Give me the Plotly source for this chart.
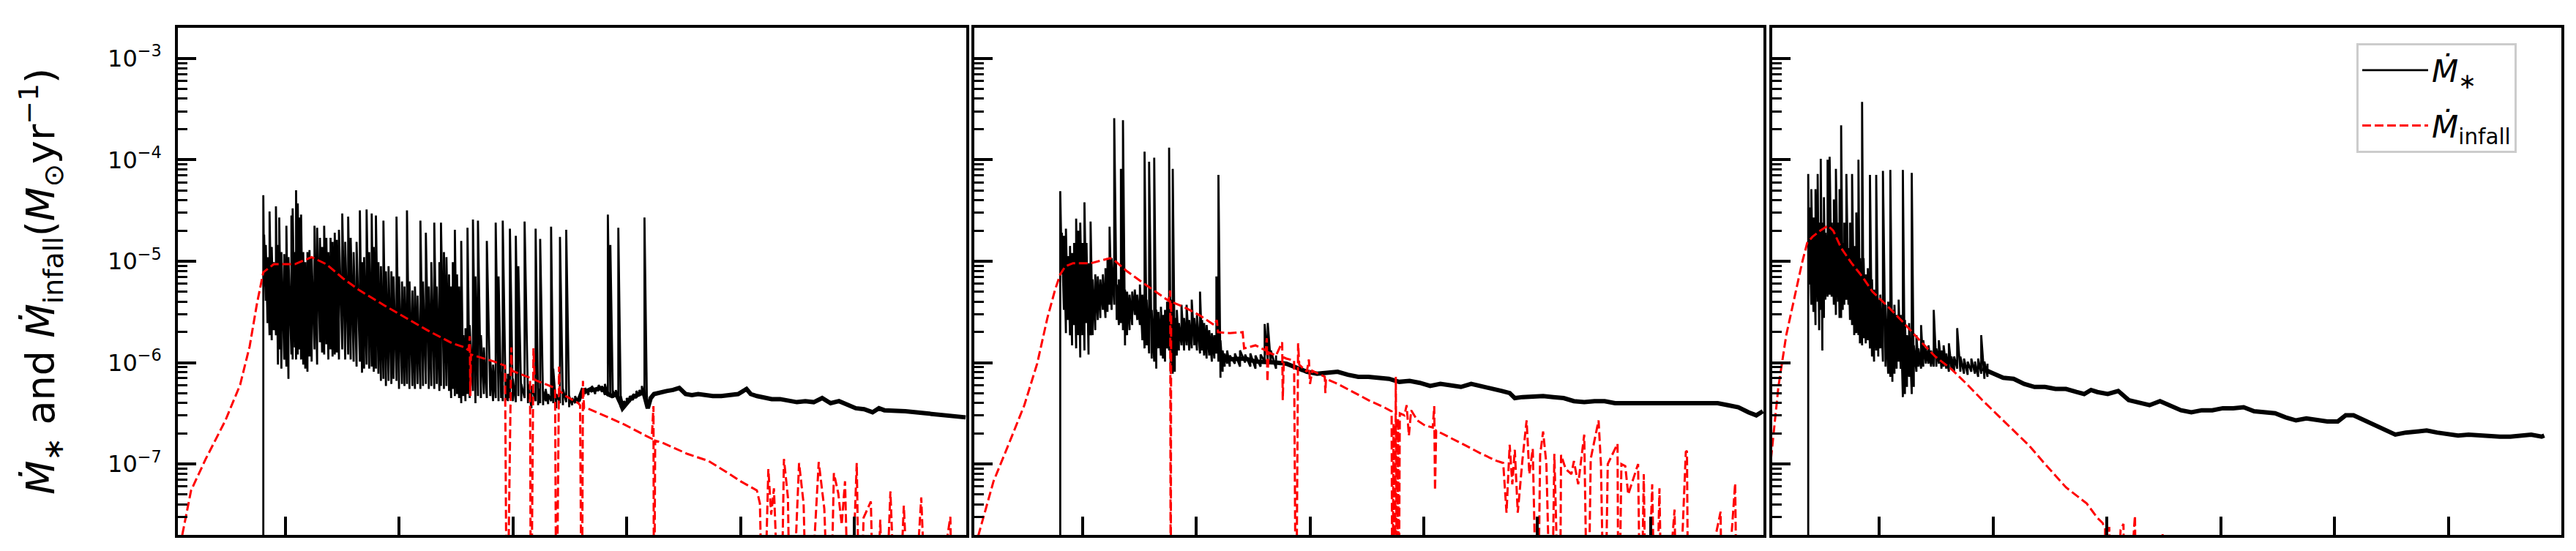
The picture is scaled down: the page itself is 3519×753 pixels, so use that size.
import math
import plotly.graph_objects as go

# ---------------------------------------------------------------------------
# Data.
# Time axis: arbitrary units, major ticks at 1..6 (labels hidden in original).
# Rates are stored as log10 values (Msun/yr); BOT marks a value far below
# the plotted range (line drops off the axis).
# ---------------------------------------------------------------------------
BOT = -9.0

# Panel 1 -- stellar accretion rate, noisy part: (t, log10 upper, log10 lower)
p1_star_core = [
    (0.805, -4.35, BOT), (0.812, -4.74, -5.25), (0.827, -4.84, -5.39), (0.842, -4.96, -5.61),
    (0.860, -4.51, -5.73), (0.879, -4.86, -5.78), (0.897, -5.01, -5.68), (0.916, -4.46, -5.73),
    (0.934, -4.84, -6.02), (0.945, -4.57, -5.87), (0.964, -4.91, -6.06), (0.989, -4.93, -5.97),
    (1.008, -4.65, -6.04), (1.026, -4.96, -6.16), (1.052, -4.55, -5.92), (1.063, -4.48, -5.97),
    (1.082, -4.91, -5.85), (1.093, -4.30, -5.97), (1.108, -4.43, -5.92), (1.122, -4.57, -5.87),
    (1.137, -4.54, -5.97), (1.156, -4.91, -6.02), (1.174, -5.01, -6.06), (1.193, -4.91, -6.09),
    (1.211, -4.89, -5.94), (1.230, -4.96, -5.99), (1.255, -4.65, -5.87), (1.278, -4.67, -6.02),
    (1.303, -4.77, -5.80), (1.322, -4.86, -5.90), (1.340, -4.65, -5.92), (1.359, -4.77, -5.82),
    (1.377, -4.91, -5.97), (1.396, -4.77, -5.87), (1.414, -4.81, -5.94), (1.433, -4.72, -5.92),
    (1.451, -4.79, -5.90), (1.470, -4.69, -5.97), (1.499, -4.53, -5.87), (1.525, -4.81, -5.97),
    (1.551, -4.56, -5.92), (1.573, -4.77, -5.97), (1.599, -4.91, -5.99), (1.625, -4.81, -6.04),
    (1.654, -4.50, -5.99), (1.673, -5.01, -6.10), (1.691, -4.96, -6.06), (1.713, -4.49, -6.02),
    (1.736, -4.91, -6.06), (1.758, -4.53, -6.04), (1.776, -4.86, -6.09), (1.795, -4.55, -6.06),
    (1.817, -5.01, -6.11), (1.839, -5.05, -6.18), (1.861, -4.60, -6.16), (1.883, -5.10, -6.23),
    (1.906, -5.05, -6.18), (1.931, -5.10, -6.21), (1.950, -5.15, -6.16), (1.976, -4.56, -6.18),
    (1.998, -5.15, -6.26), (2.024, -5.20, -6.21), (2.046, -5.25, -6.23), (2.068, -4.50, -6.21),
    (2.090, -5.20, -6.26), (2.116, -5.29, -6.23), (2.138, -5.25, -6.26), (2.161, -5.34, -6.21),
    (2.186, -4.60, -6.26), (2.209, -5.20, -6.23), (2.234, -4.72, -6.21), (2.260, -5.25, -6.26),
    (2.282, -5.01, -6.23), (2.308, -4.62, -6.26), (2.330, -5.25, -6.21), (2.353, -5.01, -6.28),
    (2.367, -4.62, -6.23), (2.393, -4.91, -6.26), (2.415, -4.96, -6.23), (2.438, -5.13, -6.28),
    (2.456, -5.25, -6.35), (2.471, -5.01, -6.26), (2.489, -4.69, -6.33), (2.508, -5.13, -6.31),
    (2.526, -5.25, -6.35), (2.545, -4.80, -6.40), (2.563, -5.73, -6.33), (2.582, -5.66, -6.38),
    (2.600, -4.67, -6.31), (2.619, -5.63, -6.35), (2.648, -4.59, -6.28), (2.670, -5.15, -6.40),
    (2.692, -4.60, -6.33), (2.718, -5.73, -6.35), (2.744, -5.85, -6.31), (2.770, -4.80, -6.35),
    (2.800, -5.97, -6.33), (2.825, -6.02, -6.38), (2.848, -4.62, -6.35), (2.873, -5.15, -6.38),
    (2.896, -6.09, -6.35), (2.910, -4.60, -6.38), (2.936, -6.16, -6.37), (2.955, -6.11, -6.38),
    (2.973, -4.68, -6.35), (2.999, -6.16, -6.38), (3.025, -4.75, -6.39), (3.047, -5.05, -6.33),
    (3.073, -6.21, -6.38), (3.102, -4.61, -6.35), (3.132, -6.21, -6.40), (3.162, -6.23, -6.45),
    (3.199, -4.68, -6.38), (3.221, -6.26, -6.42), (3.239, -4.78, -6.40), (3.265, -6.28, -6.42),
    (3.287, -6.26, -6.38), (3.309, -6.31, -6.41), (3.335, -4.66, -6.38), (3.354, -6.06, -6.40),
    (3.380, -6.31, -6.45), (3.413, -4.76, -6.40), (3.439, -6.26, -6.42), (3.468, -4.69, -6.39),
    (3.494, -6.33, -6.44), (3.520, -6.35, -6.42), (3.546, -6.33, -6.40), (3.575, -6.35, -6.40),
    (3.605, -6.26, -6.31), (3.634, -6.25, -6.31), (3.664, -6.26, -6.32), (3.694, -6.23, -6.29),
    (3.723, -6.25, -6.31), (3.753, -6.22, -6.28), (3.782, -6.23, -6.29), (3.808, -6.21, -6.32),
    (3.834, -4.54, -6.33), (3.856, -4.84, -6.33), (3.878, -6.28, -6.35), (3.904, -6.27, -6.33),
    (3.926, -4.67, -6.38), (3.948, -6.33, -6.44), (3.974, -6.38, -6.45), (4.000, -6.35, -6.42),
    (4.026, -6.33, -6.39), (4.056, -6.31, -6.37), (4.085, -6.28, -6.35), (4.111, -6.27, -6.33),
    (4.133, -6.23, -6.31), (4.156, -4.57, -6.35), (4.178, -6.33, -6.45),
]
# Panel 1 -- stellar accretion rate, quiet late part: (t, log10 rate)
p1_star_tail = [
    (3.575, -6.38), (3.612, -6.27), (3.649, -6.28), (3.686, -6.26), (3.723, -6.27), (3.760, -6.25),
    (3.797, -6.26), (3.834, -6.31), (3.871, -6.33), (3.908, -6.31), (3.945, -6.40), (3.963, -6.45),
    (4.000, -6.40), (4.037, -6.35), (4.074, -6.33), (4.111, -6.31), (4.148, -6.29), (4.185, -6.45),
    (4.211, -6.35), (4.240, -6.31), (4.296, -6.29), (4.351, -6.28), (4.407, -6.27), (4.462, -6.25),
    (4.517, -6.31), (4.573, -6.32), (4.628, -6.31), (4.684, -6.32), (4.757, -6.33), (4.831, -6.33),
    (4.905, -6.32), (4.979, -6.31), (5.053, -6.26), (5.090, -6.31), (5.145, -6.33), (5.201, -6.34),
    (5.275, -6.36), (5.348, -6.36), (5.422, -6.38), (5.496, -6.39), (5.570, -6.38), (5.644, -6.39),
    (5.718, -6.35), (5.792, -6.40), (5.866, -6.38), (5.940, -6.41), (6.014, -6.45), (6.087, -6.46),
    (6.161, -6.49), (6.217, -6.45), (6.265, -6.47), (6.450, -6.48), (6.600, -6.50), (6.750, -6.51),
    (6.900, -6.53), (6.980, -6.54),
]
# Panel 1 -- infall rate: (t, log10 rate)
p1_infall = [
    (0.050, -7.94), (0.097, -7.675), (0.170, -7.26), (0.299, -6.95), (0.472, -6.57), (0.601, -6.22),
    (0.685, -5.84), (0.749, -5.42), (0.805, -5.11), (0.897, -5.03), (1.082, -5.03), (1.230, -4.96),
    (1.359, -5.03), (1.506, -5.17), (1.654, -5.29), (1.875, -5.44), (2.061, -5.56), (2.245, -5.68),
    (2.467, -5.81), (2.577, -5.85), (2.610, -5.88), (2.620, -5.74), (2.625, -6.33), (2.630, -5.92),
    (2.834, -5.99), (2.930, -6.03), (2.947, BOT), (2.985, -5.85), (2.990, -6.08), (3.059, -6.11),
    (3.150, -6.15), (3.158, BOT), (3.180, -5.86), (3.190, -6.17), (3.278, -6.21), (3.370, -6.25),
    (3.382, BOT), (3.405, -6.04), (3.410, -6.28), (3.465, -6.33), (3.574, -6.40), (3.590, -6.42),
    (3.605, BOT), (3.615, -6.18), (3.625, -6.45), (3.651, -6.45), (3.797, -6.52), (3.979, -6.61),
    (4.166, -6.72), (4.220, -6.75), (4.235, -6.43), (4.240, BOT), (4.250, -6.77), (4.314, -6.79),
    (4.533, -6.90), (4.719, -6.97), (4.906, -7.10), (5.000, -7.17), (5.144, -7.26), (5.171, -7.39),
    (5.200, BOT), (5.245, -7.05), (5.270, -7.50), (5.294, -7.24), (5.353, BOT), (5.382, -6.95),
    (5.417, -7.33), (5.441, BOT), (5.515, -6.99), (5.555, -7.39), (5.589, BOT), (5.688, -6.98),
    (5.737, -7.44), (5.786, BOT), (5.821, -7.09), (5.860, -7.29), (5.890, -7.60), (5.919, -7.17),
    (5.959, BOT), (6.022, -6.99), (6.050, BOT), (6.082, -7.53), (6.146, -7.37), (6.180, BOT),
    (6.229, -7.55), (6.260, BOT), (6.318, -7.27), (6.377, BOT), (6.436, -7.41), (6.500, BOT),
    (6.589, -7.33), (6.648, BOT), (6.845, -7.52), (6.869, BOT), (6.990, BOT),
]

# Panel 2
p2_star_core = [
    (0.802, -4.31, BOT), (0.816, -4.72, -5.13), (0.834, -4.75, -5.48), (0.852, -4.68, -5.71),
    (0.870, -4.95, -5.58), (0.888, -4.85, -5.73), (0.906, -4.92, -5.83), (0.924, -4.82, -5.63),
    (0.942, -4.58, -5.86), (0.960, -4.70, -5.73), (0.978, -4.62, -5.95), (0.997, -4.82, -5.73),
    (1.015, -4.42, -5.88), (1.033, -4.82, -5.61), (1.051, -5.02, -5.92), (1.069, -4.61, -5.73),
    (1.087, -5.18, -5.73), (1.110, -5.13, -5.68), (1.132, -5.15, -5.58), (1.155, -5.18, -5.56),
    (1.177, -5.13, -5.48), (1.200, -5.07, -5.56), (1.218, -4.97, -5.50), (1.236, -4.66, -5.43),
    (1.254, -4.97, -5.48), (1.277, -3.59, -5.43), (1.299, -5.23, -5.58), (1.318, -5.18, -5.63),
    (1.336, -4.09, -5.61), (1.354, -3.61, -5.68), (1.372, -5.28, -5.83), (1.390, -5.30, -5.73),
    (1.412, -5.33, -5.68), (1.435, -5.30, -5.63), (1.458, -5.28, -5.53), (1.480, -5.33, -5.58),
    (1.503, -5.23, -5.63), (1.525, -5.33, -5.78), (1.544, -3.92, -5.86), (1.562, -5.38, -5.83),
    (1.584, -4.02, -5.91), (1.607, -5.48, -5.96), (1.629, -3.98, -5.99), (1.647, -5.48, -6.06),
    (1.666, -5.50, -5.86), (1.688, -5.45, -5.93), (1.706, -5.53, -5.96), (1.724, -5.48, -5.99),
    (1.742, -5.40, -5.86), (1.760, -3.88, -5.88), (1.774, -5.38, -6.11), (1.792, -4.09, -6.11),
    (1.810, -5.56, -6.09), (1.828, -5.48, -5.93), (1.846, -5.61, -5.88), (1.869, -5.43, -5.83),
    (1.892, -5.56, -5.88), (1.914, -5.43, -5.83), (1.937, -5.58, -5.88), (1.959, -5.38, -5.86),
    (1.982, -5.56, -5.83), (2.005, -5.53, -5.88), (2.032, -5.30, -5.91), (2.050, -5.58, -5.88),
    (2.068, -5.61, -5.93), (2.090, -5.63, -5.96), (2.113, -5.68, -5.93), (2.136, -5.71, -5.99),
    (2.158, -5.73, -5.96), (2.176, -5.15, -5.91), (2.194, -4.15, -5.99), (2.212, -5.78, -6.15),
    (2.231, -5.88, -6.09), (2.249, -5.91, -6.04), (2.271, -5.88, -6.01), (2.294, -5.93, -6.04),
    (2.339, -5.91, -6.01), (2.384, -5.88, -6.04), (2.429, -5.92, -6.00), (2.475, -5.91, -6.04),
    (2.520, -5.93, -6.06), (2.565, -5.92, -6.04), (2.601, -5.62, -5.99), (2.628, -5.61, -5.98),
    (2.655, -5.88, -6.01), (2.701, -5.93, -6.06),
]
p2_star_tail = [
    (2.249, -5.97), (2.339, -5.96), (2.429, -5.96), (2.520, -5.99), (2.610, -5.99), (2.701, -6.00),
    (2.791, -6.01), (2.881, -6.05), (2.972, -6.09), (3.062, -6.11), (3.153, -6.10), (3.243, -6.09),
    (3.333, -6.12), (3.424, -6.14), (3.514, -6.14), (3.605, -6.15), (3.695, -6.16),
    (3.785, -6.19), (3.876, -6.18), (3.966, -6.20), (4.057, -6.23), (4.147, -6.21), (4.237, -6.23),
    (4.328, -6.24), (4.418, -6.21), (4.509, -6.23), (4.599, -6.25), (4.689, -6.28), (4.757, -6.30),
    (4.802, -6.35), (4.870, -6.34), (4.961, -6.33), (5.051, -6.33), (5.141, -6.34), (5.232, -6.35),
    (5.322, -6.38), (5.413, -6.39), (5.503, -6.38), (5.593, -6.38), (5.684, -6.40), (5.774, -6.40),
    (5.865, -6.39), (5.955, -6.40), (6.045, -6.39), (6.136, -6.39), (6.226, -6.39), (6.317, -6.39),
    (6.407, -6.39), (6.497, -6.39), (6.588, -6.40), (6.678, -6.42), (6.769, -6.44), (6.859, -6.49),
    (6.927, -6.52), (6.985, -6.48),
]
p2_infall = [
    (0.050, -7.83), (0.085, -7.69), (0.215, -7.17), (0.350, -6.80), (0.486, -6.42), (0.599, -6.01),
    (0.689, -5.56), (0.757, -5.28), (0.802, -5.13), (0.847, -5.05), (0.915, -5.02), (1.073, -5.02),
    (1.164, -4.99), (1.241, -4.97), (1.277, -4.99), (1.390, -5.10), (1.525, -5.21), (1.638, -5.30),
    (1.755, -5.39), (1.770, -5.29), (1.774, BOT), (1.778, -5.40), (1.887, -5.45), (2.023, -5.53),
    (2.158, -5.63), (2.180, -5.58), (2.190, -5.70), (2.294, -5.71), (2.407, -5.70), (2.420, -5.86),
    (2.520, -5.83), (2.610, -5.88), (2.620, -5.76), (2.625, -6.19), (2.635, -5.90), (2.701, -5.93),
    (2.755, -5.80), (2.760, -6.37), (2.770, -5.95), (2.791, -5.96), (2.860, -5.98), (2.877, BOT),
    (2.895, -5.81), (2.905, -6.02), (2.972, -6.09), (2.990, -5.97), (3.000, -6.21), (3.020, -6.08),
    (3.130, -6.14), (3.135, -6.30), (3.140, -6.16), (3.243, -6.21), (3.378, -6.29), (3.514, -6.37),
    (3.650, -6.44), (3.718, -6.48), (3.725, BOT), (3.735, -6.60), (3.745, BOT), (3.755, -6.14),
    (3.765, BOT), (3.775, -6.55), (3.780, BOT), (3.790, -6.50), (3.831, -6.52), (3.850, -6.42),
    (3.870, -6.72), (3.890, -6.47), (3.944, -6.57), (4.011, -6.62), (4.080, -6.64), (4.093, -6.43),
    (4.100, -7.26), (4.110, -6.67), (4.237, -6.74), (4.373, -6.82), (4.509, -6.90), (4.644, -6.97),
    (4.700, -6.99), (4.729, -7.48), (4.757, -6.81), (4.780, -7.20), (4.802, -6.86), (4.828, -7.48),
    (4.870, -6.95), (4.906, -6.57), (4.930, -7.10), (4.960, -6.85), (5.001, BOT), (5.025, -6.91),
    (5.051, -6.68), (5.080, -7.00), (5.124, BOT), (5.150, -6.90), (5.198, BOT), (5.209, -6.91),
    (5.250, -7.05), (5.300, -7.10), (5.322, -6.97), (5.360, -7.20), (5.413, -6.71), (5.444, BOT),
    (5.470, -6.95), (5.539, -6.57), (5.560, -7.00), (5.592, BOT), (5.620, -7.00), (5.706, -6.80),
    (5.715, BOT), (5.740, -7.00), (5.774, -7.02), (5.800, -7.30), (5.887, -7.00), (5.910, BOT),
    (5.937, -7.10), (5.960, BOT), (6.011, -7.20), (6.040, BOT), (6.075, -7.24), (6.100, BOT),
    (6.208, -7.45), (6.230, BOT), (6.307, -6.88), (6.317, -6.87), (6.330, BOT), (6.613, -7.47),
    (6.628, BOT), (6.741, -7.19), (6.760, BOT), (6.990, BOT),
]

# Panel 3
p3_star_core = [
    (0.377, -4.14, BOT), (0.386, -4.47, -5.23), (0.404, -4.29, -5.43), (0.423, -4.57, -5.50),
    (0.441, -4.29, -5.63), (0.460, -4.14, -5.40), (0.473, -4.62, -5.68), (0.487, -3.99, -5.48),
    (0.501, -4.62, -5.88), (0.515, -4.37, -5.56), (0.528, -4.72, -5.38), (0.547, -4.00, -5.35),
    (0.565, -3.97, -5.33), (0.583, -4.62, -5.35), (0.602, -4.39, -5.43), (0.620, -4.09, -5.53),
    (0.639, -4.62, -5.40), (0.652, -4.29, -5.56), (0.666, -3.66, -5.56), (0.680, -4.82, -5.48),
    (0.694, -4.62, -5.43), (0.712, -4.14, -5.38), (0.730, -4.87, -5.43), (0.744, -4.62, -5.58),
    (0.762, -4.14, -5.63), (0.781, -4.85, -5.73), (0.799, -4.52, -5.71), (0.818, -4.00, -5.73),
    (0.831, -4.97, -5.81), (0.850, -3.43, -5.83), (0.863, -4.97, -5.76), (0.882, -5.13, -5.81),
    (0.900, -5.07, -5.78), (0.919, -4.15, -5.86), (0.937, -5.18, -5.94), (0.955, -5.28, -5.99),
    (0.974, -4.15, -5.88), (0.992, -5.38, -5.94), (1.010, -5.33, -5.86), (1.033, -4.11, -5.99),
    (1.056, -5.43, -6.04), (1.079, -5.40, -6.11), (1.098, -4.10, -6.14), (1.116, -5.48, -6.19),
    (1.134, -5.43, -6.11), (1.153, -5.53, -6.06), (1.171, -5.38, -5.99), (1.189, -5.53, -6.06),
    (1.208, -4.10, -6.34), (1.226, -5.58, -6.31), (1.244, -5.73, -6.24), (1.263, -5.61, -6.14),
    (1.286, -4.13, -6.31), (1.304, -5.83, -6.24), (1.327, -5.73, -6.09), (1.345, -5.86, -6.04),
    (1.368, -5.63, -6.06), (1.387, -5.78, -6.04), (1.410, -5.86, -6.01), (1.433, -5.83, -6.01),
    (1.456, -5.88, -6.04), (1.479, -5.48, -6.04), (1.502, -5.86, -6.04), (1.524, -5.78, -6.01),
    (1.547, -5.88, -6.06), (1.566, -5.83, -6.04), (1.589, -5.91, -6.06), (1.612, -5.81, -6.09),
    (1.635, -5.94, -6.06), (1.658, -5.94, -6.09), (1.685, -5.66, -6.06), (1.713, -5.94, -6.09),
    (1.745, -5.96, -6.11), (1.777, -5.99, -6.12), (1.809, -5.96, -6.09), (1.841, -5.99, -6.11),
    (1.869, -5.96, -6.14), (1.896, -5.73, -6.11), (1.924, -5.99, -6.16), (1.951, -6.01, -6.14),
]
p3_star_tail = [
    (1.905, -6.06), (1.997, -6.10), (2.089, -6.15), (2.181, -6.16), (2.273, -6.21), (2.364, -6.24),
    (2.456, -6.24), (2.548, -6.26), (2.640, -6.26), (2.732, -6.29), (2.800, -6.31), (2.860, -6.27),
    (2.915, -6.29), (3.007, -6.31), (3.099, -6.28), (3.191, -6.37), (3.283, -6.39), (3.374, -6.42),
    (3.466, -6.38), (3.558, -6.42), (3.650, -6.47), (3.741, -6.49), (3.833, -6.47), (3.925, -6.47),
    (4.017, -6.45), (4.109, -6.45), (4.200, -6.44), (4.292, -6.48), (4.384, -6.49), (4.476, -6.50),
    (4.568, -6.54), (4.660, -6.57), (4.751, -6.55), (4.843, -6.57), (4.935, -6.58), (5.027, -6.58),
    (5.096, -6.52), (5.165, -6.52), (5.256, -6.57), (5.348, -6.61), (5.440, -6.67), (5.532, -6.71),
    (5.624, -6.69), (5.716, -6.68), (5.807, -6.67), (5.899, -6.69), (5.991, -6.71), (6.083, -6.72),
    (6.175, -6.71), (6.266, -6.72), (6.358, -6.73), (6.450, -6.73), (6.542, -6.73), (6.633, -6.72),
    (6.725, -6.71), (6.817, -6.73), (6.840, -6.72),
]
p3_infall = [
    (0.050, -6.95), (0.069, -6.74), (0.115, -6.24), (0.184, -5.73), (0.253, -5.38), (0.322, -5.02),
    (0.368, -4.82), (0.414, -4.76), (0.482, -4.70), (0.551, -4.65), (0.597, -4.70), (0.666, -4.87),
    (0.758, -5.02), (0.850, -5.15), (0.941, -5.30), (1.079, -5.45), (1.217, -5.61), (1.355, -5.78),
    (1.492, -5.94), (1.630, -6.06), (1.768, -6.21), (1.905, -6.37), (2.043, -6.52), (2.181, -6.67),
    (2.318, -6.82), (2.456, -7.00), (2.640, -7.23), (2.823, -7.39), (2.915, -7.53), (2.961, -7.58),
    (2.984, -7.64), (2.990, BOT), (3.020, -7.62), (3.060, BOT), (3.120, -7.65), (3.145, -7.59),
    (3.160, BOT), (3.240, -7.60), (3.246, -7.51), (3.260, BOT), (3.480, BOT), (3.489, -7.68),
    (3.500, BOT), (6.990, BOT),
]

x_ticks = [1, 2, 3, 4, 5, 6]
y_major = [1e-7, 1e-6, 1e-5, 1e-4, 1e-3]
y_major_text = ["10<sup>\u22127</sup>", "10<sup>\u22126</sup>", "10<sup>\u22125</sup>",
                "10<sup>\u22124</sup>", "10<sup>\u22123</sup>"]
y_range = [2e-8, 2e-3]
x_ranges = [[0.054, 6.985], [0.046, 6.99], [0.061, 6.99]]

label_star = "<i>\u1E40</i><sub>\u2217</sub>"
label_infall = "<i>\u1E40</i><sub>infall</sub>"
y_title = ("<i>\u1E40</i><sub>\u2217</sub> and <i>\u1E40</i><sub>infall</sub>"
           "(<i>M</i><sub>\u2299</sub>yr<sup>\u22121</sup>)")

# ---------------------------------------------------------------------------
W, H = 3519, 753
ML, MR, MT, MB = 235, 28, 30, 30
PW = W - ML - MR
panel_px = [(235, 1312), (1323, 2401), (2413, 3491)]


def dom(a, b):
    return [(a - ML) / PW, (b - ML) / PW]


def zigzag(rows):
    xs, ys = [], []
    for t, hi, lo in rows:
        xs += [t, t]
        ys += [10 ** lo, 10 ** hi]
    return xs, ys


def line(rows):
    return [r[0] for r in rows], [10 ** r[1] for r in rows]


fig = go.Figure()
panels = [
    (p1_star_core, p1_star_tail, p1_infall),
    (p2_star_core, p2_star_tail, p2_infall),
    (p3_star_core, p3_star_tail, p3_infall),
]
for i, (core, tail, inf) in enumerate(panels):
    ax = "" if i == 0 else str(i + 1)
    last = i == 2
    x, y = line(tail)
    fig.add_trace(go.Scatter(x=x, y=y, mode="lines", xaxis="x" + ax, yaxis="y" + ax,
                             line=dict(color="black", width=6), showlegend=False,
                             legendgroup="star", hoverinfo="skip"))
    x, y = zigzag(core)
    fig.add_trace(go.Scatter(x=x, y=y, mode="lines", xaxis="x" + ax, yaxis="y" + ax,
                             line=dict(color="black", width=2.8), name=label_star,
                             showlegend=last, legendgroup="star"))
for i, (core, tail, inf) in enumerate(panels):
    ax = "" if i == 0 else str(i + 1)
    last = i == 2
    x, y = line(inf)
    fig.add_trace(go.Scatter(x=x, y=y, mode="lines", xaxis="x" + ax, yaxis="y" + ax,
                             line=dict(color="#ff0000", width=3, dash="12px,5px"),
                             name=label_infall, showlegend=last, legendgroup="inf"))

minor_vals = []
for e in range(-8, -2):
    for m in range(2, 10):
        v = m * 10.0 ** e
        if y_range[0] * 0.999 <= v <= y_range[1] * 1.001:
            minor_vals.append(v)

common_line = dict(showgrid=False, zeroline=False, showline=True, linecolor="black",
                   linewidth=3.5, mirror=True, ticks="inside", tickcolor="black")
layout = dict(
    width=W, height=H,
    margin=dict(l=ML, r=MR, t=MT, b=MB, autoexpand=False),
    plot_bgcolor="white", paper_bgcolor="white",
    font=dict(family="DejaVu Sans", color="black", size=32),
    legend=dict(x=(3211 - ML) / PW, y=1 - (51 - MT) / (H - MT - MB), xanchor="left",
                yanchor="top", bgcolor="rgba(255,255,255,0.8)", bordercolor="#cccccc",
                borderwidth=3, font=dict(size=42, family="DejaVu Sans"),
                tracegroupgap=18, itemwidth=90),
)
for i in range(3):
    ax = "" if i == 0 else str(i + 1)
    layout["xaxis" + ax] = dict(
        common_line, domain=dom(*panel_px[i]), range=x_ranges[i], anchor="y" + ax,
        tickvals=x_ticks, showticklabels=False, ticklen=25, tickwidth=3.5,
    )
    yax = dict(
        common_line, type="log", domain=[0, 1], anchor="x" + ax,
        range=[math.log10(y_range[0]), math.log10(y_range[1])],
        tickvals=y_major, ticktext=y_major_text, showticklabels=(i == 0),
        ticklen=25, tickwidth=3.5,
        minor=dict(tickvals=minor_vals, ticks="inside", ticklen=13, tickwidth=3,
                   tickcolor="black"),
        tickfont=dict(size=32, family="DejaVu Sans"),
    )
    if i == 0:
        yax["title"] = dict(text=y_title, font=dict(size=54, family="DejaVu Sans"),
                            standoff=56)
        yax["ticklabelstandoff"] = 12
    layout["yaxis" + ax] = yax
fig.update_layout(**layout)
fig.write_html("out.html")
